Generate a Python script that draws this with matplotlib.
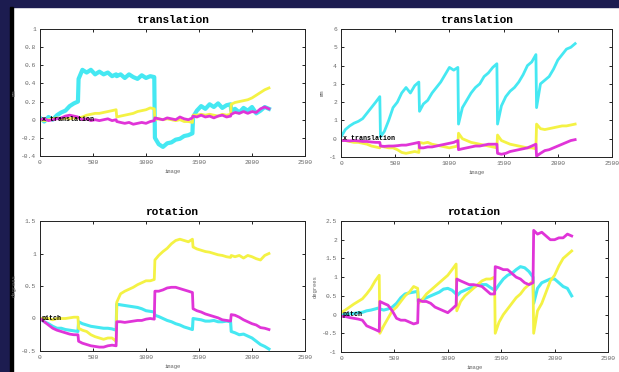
import numpy as np
import matplotlib.pyplot as plt
from matplotlib.patches import Rectangle

# image index (same sampling for every panel, jumps at session boundaries)
image = [0, 40, 80, 120, 160, 200, 240, 280, 320, 358,
         364, 400, 440, 480, 520, 560, 600, 640, 680, 718,
         724, 760, 800, 840, 880, 920, 960, 1000, 1040, 1078,
         1084, 1120, 1160, 1200, 1240, 1280, 1320, 1360, 1400, 1438,
         1444, 1480, 1520, 1560, 1600, 1640, 1680, 1720, 1760, 1798,
         1804, 1840, 1880, 1920, 1960, 2000, 2040, 2080, 2120, 2160]

# top left: translation (mm)
tl_cyan = [0.02, -0.02, 0.03, 0.00, 0.05, 0.08, 0.10, 0.15, 0.18, 0.20,
           0.45, 0.55, 0.52, 0.55, 0.50, 0.53, 0.50, 0.52, 0.48, 0.50,
           0.48, 0.50, 0.46, 0.50, 0.47, 0.45, 0.49, 0.46, 0.48, 0.47,
           -0.20, -0.27, -0.30, -0.26, -0.25, -0.22, -0.21, -0.18, -0.17, -0.15,
           0.03, 0.10, 0.15, 0.12, 0.17, 0.14, 0.18, 0.13, 0.16, 0.17,
           0.10, 0.12, 0.08, 0.13, 0.10, 0.14, 0.07, 0.10, 0.14, 0.12]
tl_yellow = [0.00, -0.01, 0.00, 0.01, 0.02, 0.01, 0.02, 0.01, 0.02, 0.02,
             0.02, 0.03, 0.05, 0.06, 0.07, 0.07, 0.08, 0.09, 0.10, 0.11,
             0.03, 0.04, 0.05, 0.06, 0.07, 0.09, 0.10, 0.11, 0.13, 0.12,
             0.00, 0.01, 0.00, 0.01, 0.00, -0.01, 0.00, -0.02, -0.02, -0.03,
             0.05, 0.05, 0.06, 0.05, 0.06, 0.05, 0.04, 0.06, 0.05, 0.06,
             0.17, 0.19, 0.20, 0.21, 0.22, 0.24, 0.27, 0.30, 0.33, 0.35]
tl_magenta = [0.00, 0.01, -0.01, 0.00, 0.01, 0.02, 0.04, 0.05, 0.04, 0.03,
              0.02, 0.00, 0.01, -0.01, 0.00, -0.01, 0.00, 0.01, -0.01, 0.00,
              -0.02, -0.03, -0.04, -0.03, -0.05, -0.04, -0.03, -0.04, -0.02, -0.01,
              0.02, 0.01, 0.00, 0.02, 0.01, 0.00, 0.03, 0.01, 0.00, 0.02,
              0.04, 0.03, 0.05, 0.03, 0.04, 0.02, 0.04, 0.05, 0.03, 0.04,
              0.06, 0.08, 0.07, 0.09, 0.07, 0.09, 0.08, 0.12, 0.14, 0.12]

# top right: translation (mm)
tr_cyan = [0.1, 0.5, 0.7, 0.85, 0.95, 1.1, 1.4, 1.7, 2.0, 2.3,
           0.1, 0.4, 1.0, 1.7, 2.0, 2.5, 2.8, 2.5, 2.9, 3.1,
           1.5, 1.9, 2.1, 2.5, 2.8, 3.1, 3.5, 3.9, 3.75, 3.9,
           0.8, 1.7, 2.1, 2.5, 2.8, 3.0, 3.4, 3.6, 3.9, 4.1,
           0.8, 1.8, 2.3, 2.6, 2.8, 3.1, 3.5, 4.0, 4.2, 4.6,
           1.7, 3.0, 3.2, 3.4, 3.8, 4.3, 4.6, 4.9, 5.0, 5.2]
tr_yellow = [-0.1, -0.1, -0.15, -0.2, -0.2, -0.25, -0.3, -0.4, -0.45, -0.5,
             -0.4, -0.45, -0.5, -0.5, -0.6, -0.75, -0.8, -0.75, -0.7, -0.75,
             -0.2, -0.25, -0.2, -0.3, -0.35, -0.4, -0.45, -0.5, -0.45, -0.4,
             0.3, 0.0, -0.1, -0.2, -0.25, -0.3, -0.35, -0.4, -0.45, -0.5,
             0.2, -0.1, -0.2, -0.3, -0.35, -0.4, -0.45, -0.5, -0.5, -0.55,
             0.8, 0.55, 0.5, 0.55, 0.6, 0.65, 0.7, 0.7, 0.75, 0.8]
tr_magenta = [-0.1, -0.1, -0.12, -0.1, -0.12, -0.15, -0.15, -0.18, -0.2, -0.2,
              -0.4, -0.42, -0.4, -0.4, -0.38, -0.35, -0.35, -0.3, -0.25, -0.2,
              -0.5, -0.5, -0.45, -0.45, -0.4, -0.35, -0.3, -0.25, -0.2, -0.1,
              -0.6, -0.55, -0.5, -0.45, -0.4, -0.4, -0.35, -0.3, -0.3, -0.3,
              -0.8, -0.85, -0.8, -0.7, -0.65, -0.6, -0.55, -0.5, -0.4, -0.3,
              -0.95, -0.8, -0.65, -0.6, -0.5, -0.4, -0.3, -0.2, -0.1, -0.05]

# bottom left: rotation (degrees)
bl_cyan = [0.0, -0.05, -0.08, -0.12, -0.15, -0.15, -0.17, -0.18, -0.19, -0.2,
           -0.05, -0.08, -0.1, -0.12, -0.13, -0.14, -0.15, -0.15, -0.16, -0.18,
           0.22, 0.21, 0.2, 0.19, 0.18, 0.17, 0.15, 0.12, 0.11, 0.1,
           0.05, 0.03, 0.0, -0.03, -0.05, -0.08, -0.1, -0.13, -0.15, -0.17,
           0.0, -0.01, -0.02, -0.04, -0.04, -0.03, -0.05, -0.05, -0.04, -0.05,
           -0.2, -0.22, -0.25, -0.24, -0.27, -0.3, -0.35, -0.4, -0.43, -0.47]
bl_yellow = [0.0, 0.0, 0.0, -0.02, 0.0, 0.0, 0.0, 0.01, 0.02, 0.02,
             -0.15, -0.18, -0.2, -0.25, -0.28, -0.3, -0.32, -0.3, -0.3, -0.35,
             0.25, 0.38, 0.42, 0.45, 0.48, 0.52, 0.55, 0.58, 0.58, 0.6,
             0.9, 0.97, 1.03, 1.08, 1.15, 1.2, 1.22, 1.2, 1.18, 1.22,
             1.1, 1.07, 1.05, 1.03, 1.02, 1.0, 0.98, 0.97, 0.95, 0.94,
             0.97, 0.95, 0.97, 0.93, 0.97, 0.95, 0.92, 0.9, 0.97, 1.0]
bl_magenta = [0.0, -0.05, -0.1, -0.15, -0.18, -0.2, -0.22, -0.24, -0.25, -0.25,
              -0.35, -0.38, -0.4, -0.42, -0.43, -0.44, -0.44, -0.42, -0.41, -0.42,
              -0.05, -0.05, -0.06, -0.05, -0.04, -0.03, -0.03, -0.01, 0.0, -0.01,
              0.42, 0.42, 0.44, 0.47, 0.48, 0.48, 0.46, 0.44, 0.42, 0.4,
              0.15, 0.12, 0.1, 0.07, 0.05, 0.03, 0.01, -0.02, -0.03, -0.04,
              0.06, 0.05, 0.02, -0.02, -0.05, -0.08, -0.1, -0.14, -0.15, -0.17]

# bottom right: rotation (degrees)
br_cyan = [0.0, 0.0, 0.02, 0.03, 0.05, 0.06, 0.1, 0.12, 0.15, 0.18,
           0.15, 0.12, 0.15, 0.2, 0.3, 0.45, 0.55, 0.58, 0.6, 0.62,
           0.35, 0.4, 0.45, 0.5, 0.55, 0.6, 0.68, 0.7, 0.65, 0.55,
           0.5, 0.6, 0.65, 0.7, 0.75, 0.78, 0.8, 0.8, 0.72, 0.65,
           0.65, 0.8, 0.95, 1.05, 1.1, 1.2, 1.28, 1.25, 1.15, 1.0,
           0.3, 0.7, 0.85, 0.9, 0.95, 0.95, 0.85, 0.75, 0.7, 0.5]
br_yellow = [0.05, 0.12, 0.2, 0.28, 0.35, 0.42, 0.55, 0.7, 0.9, 1.05,
             -0.5, -0.3, -0.1, 0.1, 0.2, 0.35, 0.5, 0.6, 0.75, 0.7,
             0.3, 0.4, 0.55, 0.65, 0.75, 0.85, 0.95, 1.05, 1.2, 1.35,
             0.1, 0.35, 0.5, 0.6, 0.7, 0.8, 0.9, 0.95, 0.95, 1.0,
             -0.5, -0.2, 0.0, 0.15, 0.3, 0.45, 0.55, 0.7, 0.8, 0.9,
             -0.5, 0.1, 0.3, 0.6, 0.9, 1.05, 1.3, 1.5, 1.6, 1.7]
br_magenta = [-0.05, -0.05, -0.08, -0.1, -0.12, -0.15, -0.3, -0.35, -0.4, -0.45,
              0.35, 0.3, 0.25, 0.1, -0.1, -0.15, -0.15, -0.2, -0.25, -0.22,
              0.4, 0.35, 0.35, 0.3, 0.2, 0.15, 0.1, 0.05, 0.15, 0.25,
              0.95, 0.9, 0.85, 0.8, 0.8, 0.78, 0.75, 0.65, 0.55, 0.55,
              1.28, 1.25, 1.2, 1.2, 1.1, 1.0, 0.95, 0.85, 0.8, 0.85,
              2.25, 2.15, 2.2, 2.1, 2.0, 2.0, 2.05, 2.05, 2.15, 2.1]

x_ticks = [0, 500, 1000, 1500, 2000, 2500]
tl_yticks = [-0.4, -0.2, 0, 0.2, 0.4, 0.6, 0.8, 1]
tr_yticks = [-1, 0, 1, 2, 3, 4, 5, 6]
bl_yticks = [-0.5, 0, 0.5, 1, 1.5]
br_yticks = [-1, -0.5, 0, 0.5, 1, 1.5, 2, 2.5]

CYAN, YELLOW, MAGENTA = '#45e8f2', '#f4f244', '#e034d8'
MONO = 'Liberation Mono'

fig = plt.figure(figsize=(6.19, 3.72), dpi=100)
fig.patch.set_facecolor('white')

# slide frame: navy band on top, navy + black strip on the left
fig.add_artist(Rectangle((0, 1 - 7 / 372), 1, 7 / 372, transform=fig.transFigure,
                         color='#1c1c50', zorder=0))
fig.add_artist(Rectangle((0, 0), 10 / 619, 1, transform=fig.transFigure,
                         color='#1c1c50', zorder=0))
fig.add_artist(Rectangle((10 / 619, 0), 3 / 619, 1 - 7 / 372, transform=fig.transFigure,
                         color='black', zorder=0))

panels = [
    ([40, 29, 305, 156], tl_cyan, tl_yellow, tl_magenta, tl_yticks, 'translation', 'mm', 'x translation', 3.0),
    ([341, 29, 612, 157], tr_cyan, tr_yellow, tr_magenta, tr_yticks, 'translation', 'mm', 'x translation', 2.0),
    ([40, 221, 305, 351], bl_cyan, bl_yellow, bl_magenta, bl_yticks, 'rotation', 'degrees', 'pitch', 2.2),
    ([341, 221, 608, 352], br_cyan, br_yellow, br_magenta, br_yticks, 'rotation', 'degrees', 'pitch', 2.2),
]

for box, cy, ye, ma, yt, title, ylab, leg, lw in panels:
    l, t, r, b = box
    ax = fig.add_axes([l / 619, 1 - b / 372, (r - l) / 619, (b - t) / 372])
    ax.plot(image, cy, color=CYAN, lw=lw)
    ax.plot(image, ye, color=YELLOW, lw=2.0)
    ax.plot(image, ma, color=MAGENTA, lw=2.0)
    ax.set_xlim(0, 2500)
    ax.set_ylim(yt[0], yt[-1])
    ax.set_xticks(x_ticks)
    ax.set_xticklabels([str(v) for v in x_ticks])
    ax.set_yticks(yt)
    ax.set_yticklabels([('%g' % v) for v in yt])
    ax.tick_params(direction='in', length=2, width=0.6, top=True, right=True,
                   labelsize=4.5, labelcolor='#666666', pad=3)
    for lab in ax.get_xticklabels() + ax.get_yticklabels():
        lab.set_family(MONO)
    for s in ax.spines.values():
        s.set_linewidth(0.7)
        s.set_color('#222222')
    ax.set_title(title, family=MONO, fontsize=8, fontweight='bold', pad=4)
    ax.set_xlabel('image', family=MONO, fontsize=4, color='#666666', labelpad=3)
    ax.set_ylabel(ylab, family=MONO, fontsize=4, color='#666666', labelpad=3)
    ax.text(15, 0, leg, family=MONO, fontsize=4.8, fontweight='bold',
            va='center', ha='left', color='black')

fig.savefig('out.png', dpi=100)
